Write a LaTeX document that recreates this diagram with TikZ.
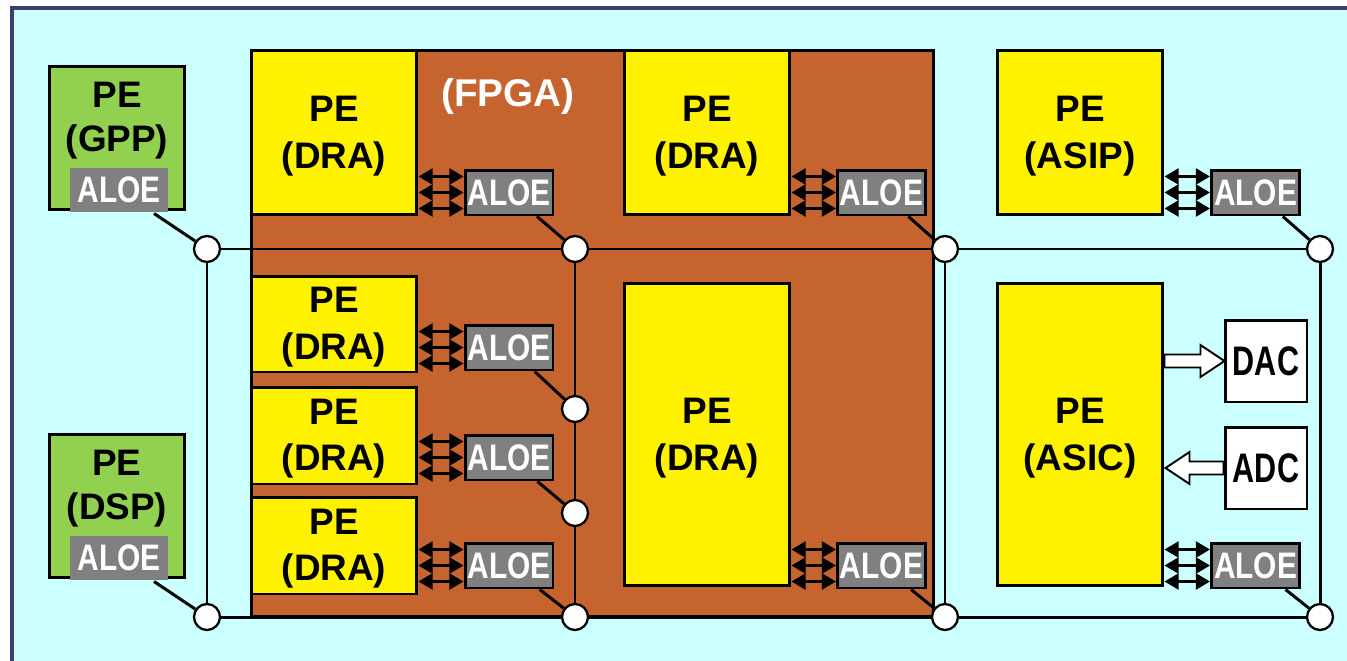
\documentclass[tikz,border=0pt]{standalone}
\usepackage{fontspec}
\setmainfont{Liberation Sans}
\newfontfamily\narrowfont[FakeStretch=0.81]{Liberation Sans}
\newfontfamily\condfont[FakeStretch=0.74]{Liberation Sans}
\usetikzlibrary{arrows.meta}
\definecolor{skyfill}{HTML}{CCFFFF}
\definecolor{framenavy}{HTML}{3F3F6F}
\definecolor{fpgabrown}{HTML}{C5642F}
\definecolor{gppgreen}{HTML}{92D050}
\definecolor{aloegray}{HTML}{808080}

\begin{document}
\begin{tikzpicture}[x=0.02cm, y=-0.02cm, line width=1.7pt,
    pe/.style={draw, fill=yellow, minimum width=3.32cm, inner sep=0pt, align=center, text depth=1pt,
      font=\fontsize{21}{26.5}\selectfont\bfseries},
    toppe/.style={pe, minimum height=3.30cm, text depth=-3.6pt},
    tallpe/.style={pe, minimum height=6.06cm, text depth=-9.2pt},
    gpe/.style={draw, fill=gppgreen, minimum width=2.72cm, minimum height=2.88cm, inner sep=0pt},
    petext/.style={align=center, inner sep=0pt, font=\fontsize{21}{25}\selectfont\bfseries},
    aloe/.style={draw, fill=aloegray, text=white, minimum width=1.76cm, minimum height=0.9cm,
      inner sep=0pt, font=\narrowfont\fontsize{21}{21}\selectfont\bfseries},
    galoe/.style={fill=aloegray, text=white, minimum width=1.96cm, minimum height=0.88cm,
      inner sep=0pt, font=\narrowfont\fontsize{21}{21}\selectfont\bfseries},
    conv/.style={draw, fill=white, minimum size=1.64cm, inner sep=0pt,
      font=\condfont\fontsize{23.5}{23.5}\selectfont\bfseries},
    junc/.style={circle, draw, fill=white, minimum size=0.52cm, inner sep=0pt, line width=1.3pt},
    link/.style={{Triangle[length=8pt,width=9pt]}-{Triangle[length=8pt,width=9pt]}, line width=1.5pt},
    hollow/.style={draw, fill=white, line width=1.1pt, line join=miter}]

  \useasboundingbox (0,0) rectangle (1347,660);
  \clip (0,0) rectangle (1347,660);
  \fill[white] (0,0) rectangle (1347,660);

  % outer frame
  \draw[framenavy, line width=2.3pt, fill=skyfill] (12,8) rectangle (1380,690);

  % FPGA fabric
  \node[draw, fill=fpgabrown, minimum width=13.66cm, minimum height=11.34cm, inner sep=0pt]
    (fpga) at (592.5,333.5) {};
  \node[petext, text=white, font=\fontsize{22}{25}\selectfont\bfseries] (fpgat) at (508,97) {(FPGA)};

  % processing elements
  \node[gpe] (gpp) at (117,138) {};
  \node[petext] (gppt) at (117,121) {PE\\(GPP)};
  \node[galoe] (galoe1) at (119,190) {ALOE};

  \node[gpe] (dsp) at (117,506) {};
  \node[petext] (dspt) at (117,489) {PE\\(DSP)};
  \node[galoe] (galoe2) at (119,558) {ALOE};

  \node[toppe] (dra1) at (334,132.5) {PE\\(DRA)};
  \node[toppe] (dra2) at (707,132.5) {PE\\(DRA)};
  \node[toppe] (asip) at (1080,132.5) {PE\\(ASIP)};
  \node[pe, minimum height=1.92cm] (dra3) at (334,324) {PE\\(DRA)};
  \node[pe, minimum height=1.94cm] (dra4) at (334,435.5) {PE\\(DRA)};
  \node[pe, minimum height=1.94cm] (dra5) at (334,545.5) {PE\\(DRA)};
  \node[tallpe] (dra6) at (707,434.5) {PE\\(DRA)};
  \node[tallpe] (asic) at (1080,434.5) {PE\\(ASIC)};

  \node[conv] (dac) at (1266,361) {DAC};
  \node[conv] (adc) at (1266,468) {ADC};

  % ALOE blocks
  \node[aloe] (al1) at (509,192.5) {ALOE};
  \node[aloe] (al2) at (881.5,192.5) {ALOE};
  \node[aloe] (al3) at (1255.5,192.5) {ALOE};
  \node[aloe] (al4) at (509,347.5) {ALOE};
  \node[aloe] (al5) at (509,457.5) {ALOE};
  \node[aloe] (al6) at (509,565.5) {ALOE};
  \node[aloe] (al7) at (881.5,565.5) {ALOE};
  \node[aloe] (al8) at (1255.5,565.5) {ALOE};

  % junctions
  \node[junc] (j1) at (207,249) {};
  \node[junc] (j2) at (575,249) {};
  \node[junc] (j3) at (945,249) {};
  \node[junc] (j4) at (1320,249) {};
  \node[junc] (j5) at (575,409) {};
  \node[junc] (j6) at (575,513) {};
  \node[junc] (j7) at (575,617) {};
  \node[junc] (j8) at (207,617) {};
  \node[junc] (j9) at (945,617) {};
  \node[junc] (j10) at (1320,617) {};

  % bus
  \foreach \i/\j in {j1/j2,j2/j3,j3/j4,j8/j7,j7/j9,j9/j10,j1/j8,j2/j5,j5/j6,j6/j7,j3/j9,j4/j10}
    \draw (\i) -- (\j);

  % ALOE to bus
  \foreach \i/\j in {galoe1/j1,galoe2/j8,al1/j2,al2/j3,al3/j4,al4/j5,al5/j6,al6/j7,al7/j9,al8/j10}
    \draw (\i) -- (\j);

  % PE to ALOE links
  \foreach \p/\a in {dra1/al1,dra2/al2,asip/al3,dra3/al4,dra4/al5,dra5/al6,dra6/al7,asic/al8}
    \foreach \d in {-16,0,16}
      \draw[link] ([yshift=\d*0.02cm]\a.west) -- ([yshift=\d*0.02cm]\a.west -| \p.east);

  % converters
  \draw[hollow] (asic.east |- dac.west) ++(0,-6.5) -- ++(36,0) -- ++(0,-9.5) -- ++(24,16)
    -- ++(-24,16) -- ++(0,-9.5) -- ++(-36,0) -- cycle;
  \draw[hollow] (adc.west) ++(0,-6.5) -- ++(-34,0) -- ++(0,-9.5) -- ++(-24,16)
    -- ++(24,16) -- ++(0,-9.5) -- ++(34,0) -- cycle;

\end{tikzpicture}
\end{document}
